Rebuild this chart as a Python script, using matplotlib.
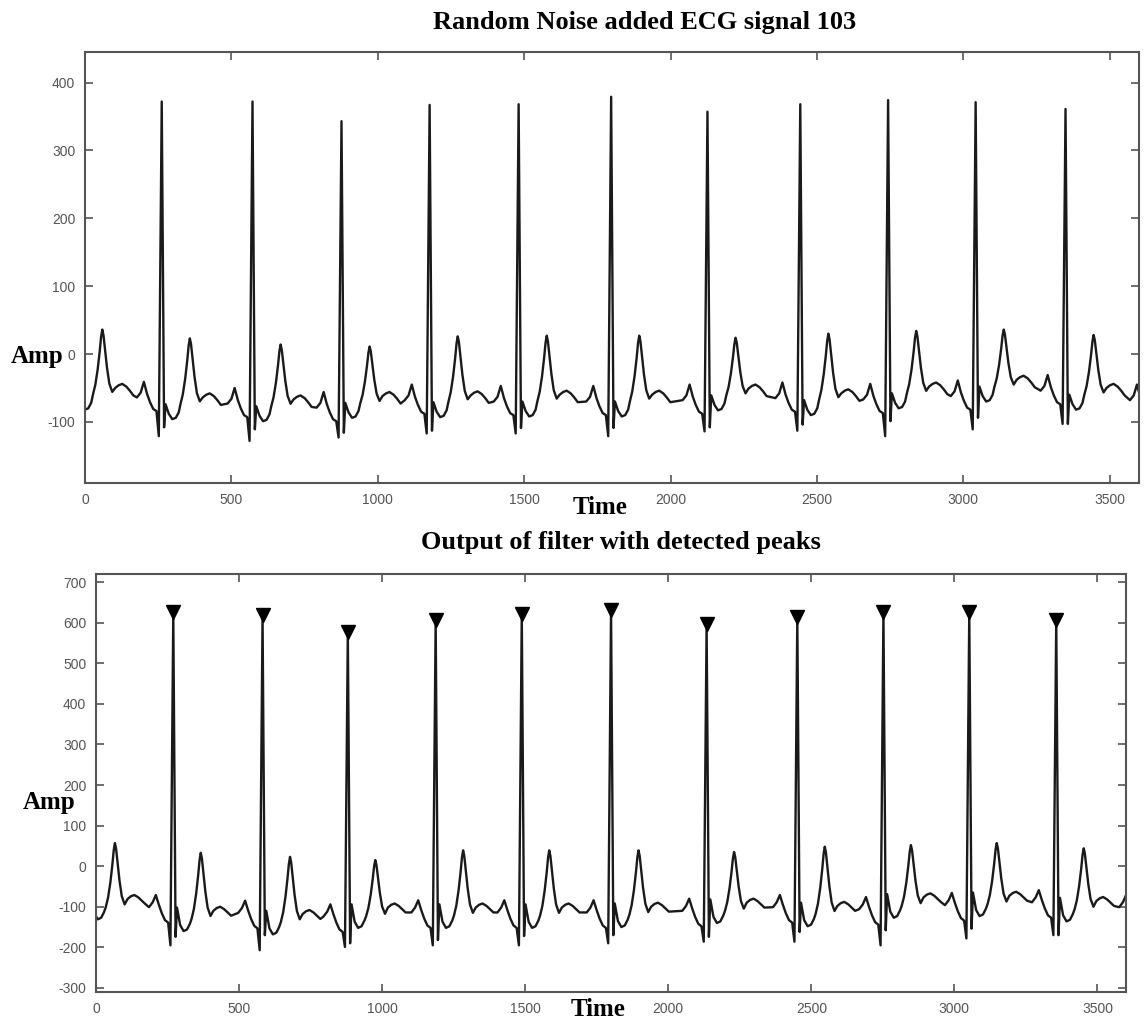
import matplotlib
matplotlib.use("Agg")
import matplotlib.pyplot as plt
import numpy as np

# beat-by-beat values (first and last beat sit outside the axes)
r_time_top = [-37, 262, 572, 876, 1177, 1481, 1797, 2126, 2443, 2743, 3042, 3349, 3654]
r_top = [370, 372, 372, 343, 367, 368, 379, 357, 368, 374, 371, 361, 360]
q_top = [-115, -121, -128, -123, -117, -117, -121, -114, -113, -121, -111, -103, -110]
s_top = [-105, -108, -111, -116, -113, -109, -109, -108, -104, -99, -94, -103, -100]
t_top = [36, 23, 14, 11, 26, 27, 27, 24, 30, 34, 36, 28, 30]
hump_top = [-44, -58, -61, -56, -55, -54, -54, -45, -52, -42, -32, -44, -45]
p_top = [-45, -41, -50, -56, -45, -47, -47, -45, -42, -44, -39, -31, -45]

r_time_bot = [-30, 270, 582, 880, 1187, 1488, 1800, 2134, 2451, 2752, 3052, 3356, 3661]
r_bot = [620, 626, 618, 577, 607, 622, 632, 596, 614, 626, 626, 607, 610]
q_bot = [-190, -195, -207, -199, -195, -195, -190, -186, -186, -195, -178, -170, -180]
s_bot = [-170, -174, -170, -190, -182, -172, -170, -174, -162, -158, -154, -170, -170]
t_bot = [57, 33, 23, 15, 39, 39, 39, 35, 48, 52, 57, 44, 45]
hump_bot = [-71, -100, -108, -92, -92, -92, -90, -80, -88, -67, -63, -76, -76]
p_bot = [-71, -71, -85, -94, -84, -84, -84, -80, -71, -76, -66, -59, -71]

# detected peaks (markers) = the real beats of the filtered signal
peak_time = r_time_bot[1:-1]
peak_amp = r_bot[1:-1]

# one beat: offsets from the R peak
pre_off = [-85, -72, -61, -50, -40, -29, -18]
pre_rel_top = [-23, -16, 0, -18, -30, -40, -43]
pre_rel_bot = [-30, -18, 0, -25, -45, -62, -68]
post_off = [13, 24, 36, 48, 58]
post_rel_top = [-16, -30, -38, -36, -28]
post_rel_bot = [-2, -45, -60, -56, -42]
tw_off = [64, 72, 80, 87, 92, 96, 100, 105, 112, 120, 130]
tw_frac = [0.06, 0.2, 0.42, 0.68, 0.9, 1.0, 0.92, 0.72, 0.45, 0.22, 0.1]
tail_off = [140, 152, 164, 178, 190, 202]
tail_rel_top = [-6, -2, 0, -4, -10, -17]
tail_rel_bot = [-10, -3, 0, -6, -14, -22]


def trace(rt, r, q, s, t, hump, p, pre_rel, post_rel, t_base, tail_rel):
    xs, ys = [], []
    for i in range(len(rt)):
        for o, v in zip(pre_off, pre_rel):
            xs.append(rt[i] + o); ys.append(p[i] + v)
        xs += [rt[i] - 10, rt[i], rt[i] + 8]
        ys += [q[i], r[i], s[i]]
        for o, v in zip(post_off, post_rel):
            xs.append(rt[i] + o); ys.append(hump[i] + v)
        base = hump[i] + t_base
        for o, f in zip(tw_off, tw_frac):
            xs.append(rt[i] + o); ys.append(base + f * (t[i] - base))
        for o, v in zip(tail_off, tail_rel):
            xs.append(rt[i] + o); ys.append(hump[i] + v)
    return np.array(xs), np.array(ys)


plt.rcParams['font.family'] = 'Liberation Sans'
plt.rcParams['axes.unicode_minus'] = False
fig = plt.figure(figsize=(11.46, 10.25), dpi=100)
ax1 = fig.add_axes([0.0742, 0.5288, 0.9197, 0.4205])
ax2 = fig.add_axes([0.0838, 0.0322, 0.8988, 0.4078])

x, y = trace(r_time_top, r_top, q_top, s_top, t_top, hump_top, p_top,
             pre_rel_top, post_rel_top, -22, tail_rel_top)
ax1.plot(x, y, color='#1a1a1a', lw=1.7, solid_joinstyle='round')
x, y = trace(r_time_bot, r_bot, q_bot, s_bot, t_bot, hump_bot, p_bot,
             pre_rel_bot, post_rel_bot, -40, tail_rel_bot)
ax2.plot(x, y, color='#1a1a1a', lw=1.7, solid_joinstyle='round')
ax2.plot(peak_time, peak_amp, 'v', color='black', markersize=10)

ax1.set_xlim(0, 3600)
ax1.set_ylim(-190, 445)
ax1.set_yticks(range(-100, 401, 100))
ax2.set_xlim(0, 3600)
ax2.set_ylim(-310, 720)
ax2.set_yticks(range(-300, 701, 100))

for ax in (ax1, ax2):
    ax.set_xticks(range(0, 3501, 500))
    ax.tick_params(direction='in', top=True, right=True, length=6, width=1.2,
                   color='#555555', labelcolor='#555555', labelsize=10, pad=7)
    for sp in ax.spines.values():
        sp.set_color('#555555')
        sp.set_linewidth(1.5)

serif = dict(family='Liberation Serif', weight='bold', color='black')
fig.text(645 / 1146, 1 - 22 / 1025, 'Random Noise added ECG signal 103',
         ha='center', va='center', fontsize=19, **serif)
fig.text(621 / 1146, 1 - 543 / 1025, 'Output of filter with detected peaks',
         ha='center', va='center', fontsize=19, **serif)
fig.text(37 / 1146, 1 - 357 / 1025, 'Amp', ha='center', va='center', fontsize=18, **serif)
fig.text(49 / 1146, 1 - 803 / 1025, 'Amp', ha='center', va='center', fontsize=18, **serif)
fig.text(600 / 1146, 1 - 508 / 1025, 'Time', ha='center', va='center', fontsize=18, **serif)
fig.text(598 / 1146, 1 - 1010 / 1025, 'Time', ha='center', va='center', fontsize=18, **serif)

fig.savefig('out.png', dpi=100)
